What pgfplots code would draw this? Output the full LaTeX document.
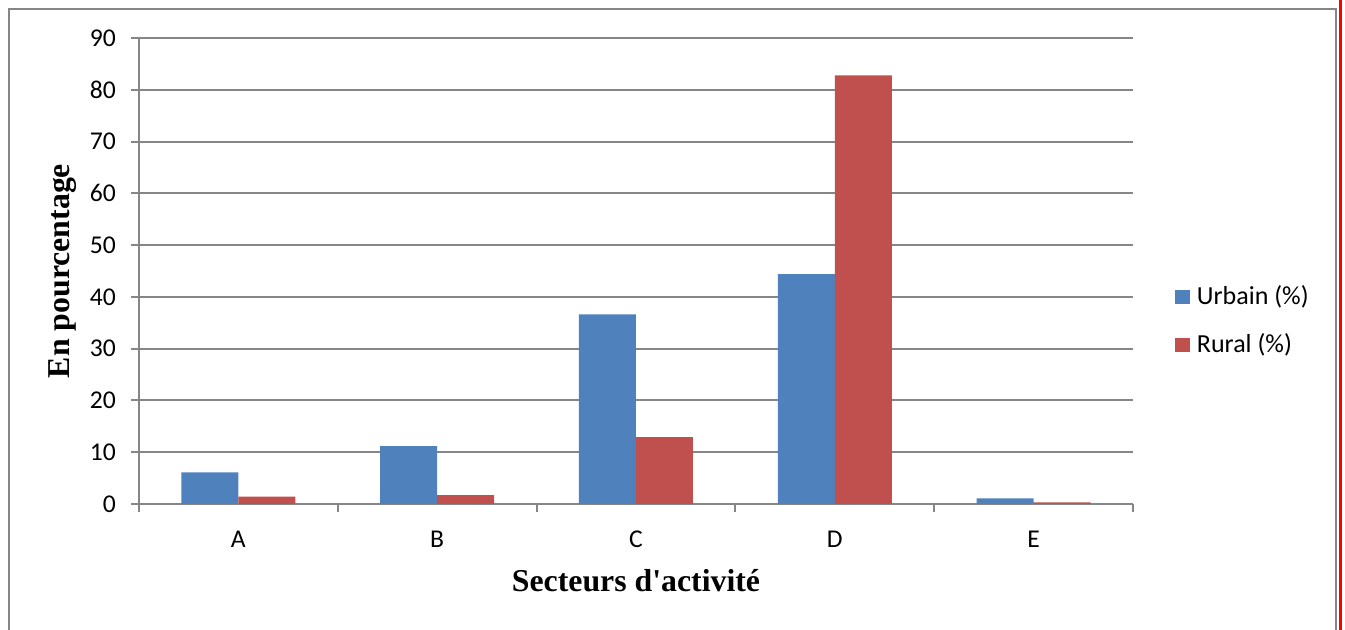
\documentclass[border=0pt]{standalone}
\usepackage{pgfplots}
\pgfplotsset{compat=1.18}
\usepackage{fontspec}
\setmainfont{Carlito}
\newfontfamily\titlefont{Liberation Serif}

\definecolor{urbain}{HTML}{4F81BD}
\definecolor{rural}{HTML}{C0504D}
\definecolor{gridgray}{HTML}{868686}

\begin{document}
\begin{tikzpicture}
% page area and outer frame (1 px = 0.5pt)
\useasboundingbox (0pt,0pt) rectangle (672.5pt,315pt);
\draw[gridgray,line width=1.2pt] (4.5pt,-3pt) -- (4.5pt,310.5pt) -- (668pt,310.5pt) -- (668pt,-3pt);
\fill[red] (669.3pt,0pt) rectangle (671pt,315pt);

\begin{axis}[
  at={(69.5pt,63pt)}, anchor=south west,
  scale only axis,
  width=497pt, height=233pt,
  ybar=0pt, bar width=28.5pt,
  xmin=-0.5, xmax=4.5,
  ymin=0, ymax=90,
  ytick={0,10,...,90},
  xtick={-0.5,0.5,...,4.5},
  xticklabels={},
  extra x ticks={0,1,2,3,4},
  extra x tick labels={A,B,C,D,E},
  extra x tick style={major tick length=0pt, xticklabel style={yshift=-10pt}},
  axis x line*=bottom, axis y line*=left,
  axis line style={gridgray, line width=1pt},
  tick align=outside, major tick length=4pt,
  tick style={gridgray, line width=1pt},
  ymajorgrids, grid style={gridgray, line width=1pt},
  tick label style={font=\fontsize{12.8}{15}\selectfont},
  yticklabel style={xshift=-4pt},
  /pgf/number format/assume math mode=true,
  xlabel={\titlefont\bfseries\fontsize{15.9}{18}\selectfont Secteurs d'activit\'e},
  ylabel={\titlefont\bfseries\fontsize{15.9}{18}\selectfont En pourcentage},
  xlabel style={at={(axis description cs:0.5,0)}, anchor=center, yshift=-38.5pt},
  ylabel style={at={(axis description cs:0,0.5)}, anchor=center, yshift=38pt},
  legend style={draw=none, at={(axis description cs:1.042,0.393)}, anchor=west,
    font=\fontsize{13}{15}\selectfont, row sep=9pt, inner sep=0pt,
    nodes={inner xsep=3.5pt}},
  legend cell align=left,
  legend image code/.code={\fill[#1] (0pt,-3.6pt) rectangle (7.4pt,3.6pt);},
  every axis plot/.append style={draw=none},
]
\addplot[fill=urbain] coordinates {(0,6.1) (1,11.2) (2,36.6) (3,44.4) (4,1.1)};
\addplot[fill=rural] coordinates {(0,1.4) (1,1.7) (2,12.9) (3,82.8) (4,0.3)};
\legend{Urbain (\%),Rural (\%)}
\end{axis}
\end{tikzpicture}
\end{document}
